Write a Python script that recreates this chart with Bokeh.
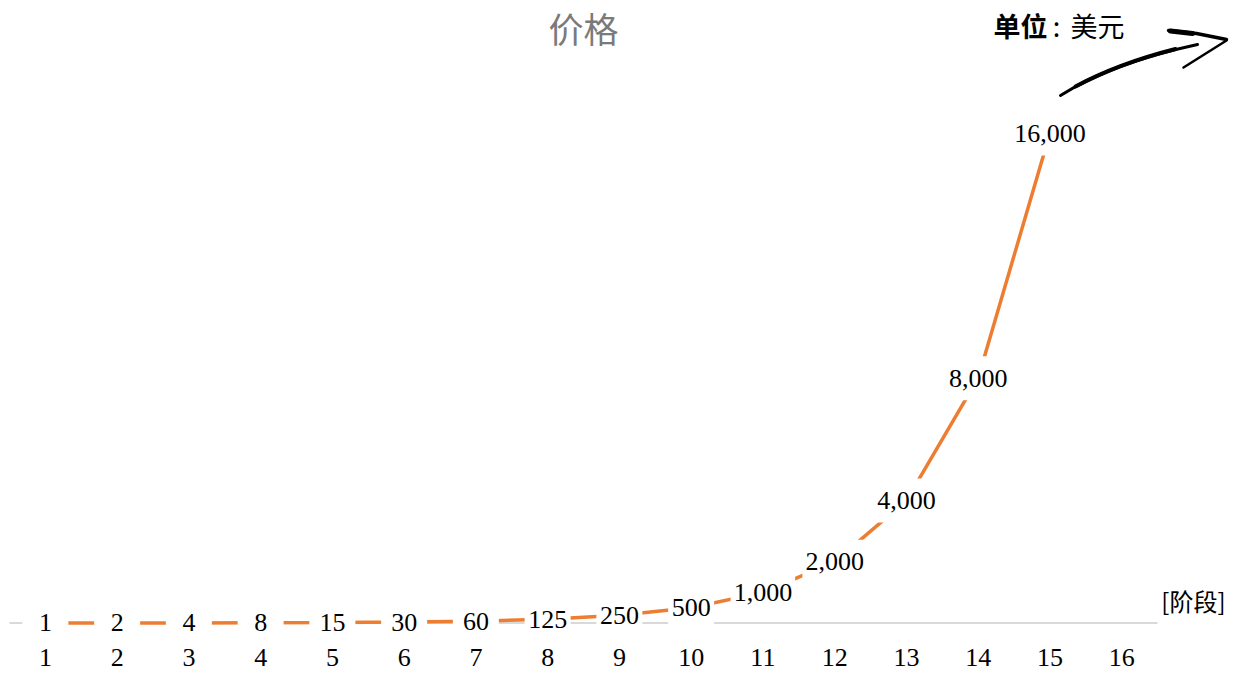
from bokeh.plotting import figure
from bokeh.models import Range1d, FixedTicker
from bokeh.core.properties import value
from bokeh.embed import file_html
from bokeh.resources import INLINE

# ---- data ----
stages = list(range(1, 17))
stage_labels = [str(s) for s in stages]
price_stages = list(range(1, 16))
prices = [1, 2, 4, 8, 15, 30, 60, 125, 250, 500, 1000, 2000, 4000, 8000, 16000]
price_labels = [f"{v:,}" for v in prices]
title_text = "价格"
unit_bold = "单位"
unit_text = "美元"
x_axis_name = "[阶段]"

# ---- pixel <-> data helpers (layout only) ----
X0_PX, STEP = 9.0, 71.75
ZERO_PX, K = 622.5, 0.0306
W, H, BOTTOM = 1245, 673, 35


def sx(px):
    return 0.5 + (px - X0_PX) / STEP


def sy(py):
    return (ZERO_PX - py) / K


p = figure(width=W, height=H, output_backend="svg", toolbar_location=None,
           x_range=Range1d(sx(0), sx(W)), y_range=Range1d(sy(H - BOTTOM), sy(0)),
           y_axis_location=None, min_border=0, min_border_left=0,
           min_border_right=0, min_border_top=0, min_border_bottom=BOTTOM)
p.outline_line_color = None
p.grid.visible = False
p.background_fill_color = "white"
p.border_fill_color = "white"

ax = p.xaxis[0]
ax.ticker = FixedTicker(ticks=stages)
ax.major_label_overrides = {s: l for s, l in zip(stages, stage_labels)}
ax.axis_line_color = None
ax.major_tick_line_color = None
ax.minor_tick_line_color = None
ax.major_tick_in = 0
ax.major_tick_out = 0
ax.major_label_standoff = 10
ax.major_label_text_font = "Liberation Serif"
ax.major_label_text_font_size = "26px"
ax.major_label_text_color = "black"

# baseline (category axis line)
p.segment(x0=[0.5], y0=[0], x1=[16.5], y1=[0], line_color="#d9d9d9", line_width=2)

# price line
p.line(price_stages, prices, line_color="#ED7D31", line_width=3.5)

# white boxes behind data labels
def text_w(s):
    return sum(6.5 if c == "," else 13 for c in s)

box_w = [max(46, text_w(s) + 6) for s in price_labels]
p.rect(x=price_stages, y=prices, width=box_w, height=[44] * len(prices),
       width_units="screen", height_units="screen",
       fill_color="white", line_color=None)

p.text(x=price_stages, y=prices, text=price_labels,
       text_font=value("Liberation Serif"), text_font_size="26px",
       text_color="black", text_align="center", text_baseline="middle")

# title
p.text(x=[sx(583)], y=[sy(1)], text=[title_text], text_font=value("Noto Sans CJK SC"),
       text_font_size="35px", text_color="#7a7a7a", text_align="center",
       text_baseline="top")

# unit annotation
p.text(x=[sx(993)], y=[sy(25)], text=[unit_bold], text_font=value("Noto Sans CJK SC"),
       text_font_size="27px", text_font_style="bold", text_color="black",
       text_align="left", text_baseline="middle")
p.text(x=[sx(1056)], y=[sy(25)], text=[":"], text_font=value("Noto Sans CJK SC"),
       text_font_size="27px", text_color="black", text_align="center",
       text_baseline="middle")
p.text(x=[sx(1070)], y=[sy(25)], text=[unit_text], text_font=value("Noto Sans CJK SC"),
       text_font_size="27px", text_color="black", text_align="left",
       text_baseline="middle")

# axis name
p.text(x=[sx(1225)], y=[sy(600)], text=[x_axis_name], text_font=value("Noto Sans CJK SC"),
       text_font_size="24px", text_color="black", text_align="right",
       text_baseline="middle")

# hand-drawn arrow
p.quadratic(x0=[sx(1060)], y0=[sy(95)], x1=[sx(1197)], y1=[sy(44)],
            cx=[sx(1111)], cy=[sy(62.5)], line_color="black", line_width=3,
            line_cap="round")
p.quadratic(x0=[sx(1075)], y0=[sy(86)], x1=[sx(1175)], y1=[sy(48.5)],
            cx=[sx(1118)], cy=[sy(63)], line_color="black", line_width=4,
            line_cap="round")
p.line([sx(1168), sx(1196), sx(1226)], [sy(30), sy(33), sy(39)],
       line_color="black", line_width=3.5, line_cap="round")
p.line([sx(1170), sx(1192)], [sy(30.5), sy(33)], line_color="black",
       line_width=5, line_cap="round")
p.line([sx(1226), sx(1183)], [sy(40), sy(67)], line_color="black",
       line_width=2.5, line_cap="round")

open("out.html", "w").write(file_html(p, INLINE))
